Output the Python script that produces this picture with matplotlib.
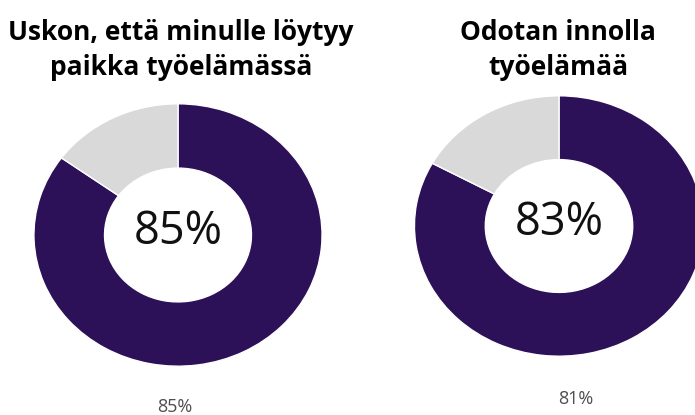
import matplotlib
matplotlib.use('Agg')
import matplotlib.pyplot as plt

# Data
titles = ['Uskon, että minulle löytyy\npaikka työelämässä', 'Odotan innolla\ntyöelämää']
shares = [85, 83]
center_labels = ['85%', '83%']
bottom_labels = ['85%', '81%']

purple = '#2d1158'
grey = '#d9d9d9'

W, H = 695, 415
fig = plt.figure(figsize=(W / 100, H / 100), dpi=100)
fig.patch.set_facecolor('white')

# donut boxes in pixels: center x, center y, half width, half height
boxes = [(178, 235, 145.5, 132.5), (559, 226, 146, 131.5)]
title_pos = [(181, 50), (558, 50)]
bottom_pos = [(175, 407), (576, 399)]

for i in range(2):
    cx, cy, hw, hh = boxes[i]
    ax = fig.add_axes([(cx - hw) / W, (H - cy - hh) / H, 2 * hw / W, 2 * hh / H])
    ax.pie([shares[i], 100 - shares[i]], colors=[purple, grey], startangle=90,
           counterclock=False, radius=1,
           wedgeprops=dict(width=0.49, edgecolor='white', linewidth=1))
    ax.set_aspect('auto')
    ax.set_xlim(-1.01, 1.01)
    ax.set_ylim(-1.01, 1.01)
    ax.axis('off')
    ax.text(0, 0.02, center_labels[i], ha='center', va='center',
            fontsize=32.5, family='Open Sans', color='#111111')

    tx, ty = title_pos[i]
    fig.text(tx / W, 1 - ty / H, titles[i], ha='center', va='center',
             fontsize=19, family='Open Sans', fontweight='bold', linespacing=1.4)

    bx, by = bottom_pos[i]
    fig.text(bx / W, 1 - by / H, bottom_labels[i], ha='center', va='center',
             fontsize=13, family='Open Sans', color='#4d4d4d')

fig.savefig('out.png', dpi=100)
